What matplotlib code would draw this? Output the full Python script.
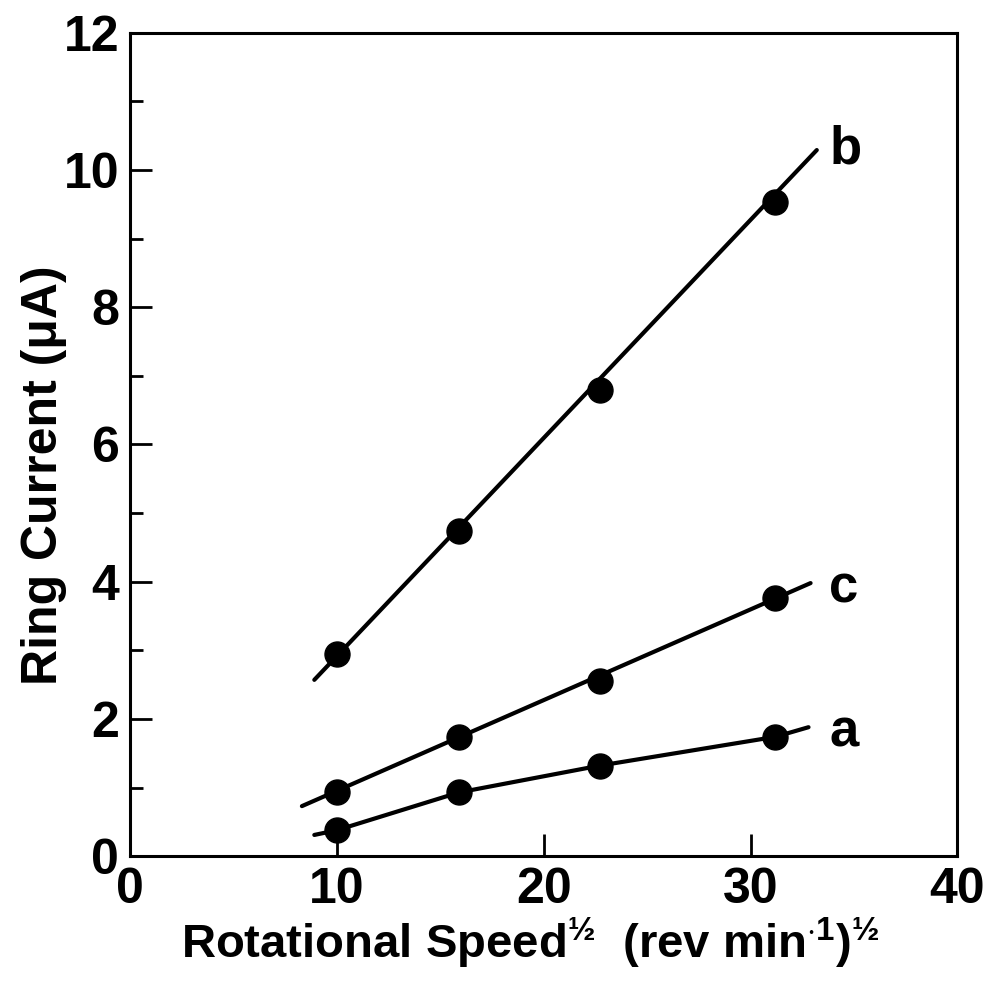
import numpy as np
import matplotlib
matplotlib.use("Agg")
import matplotlib.pyplot as plt

speed = [10.0, 15.9, 22.7, 31.2]          # (rev min^-1)^1/2
ring_a = [0.38, 0.93, 1.32, 1.74]
ring_b = [2.95, 4.74, 6.80, 9.54]
ring_c = [0.93, 1.73, 2.55, 3.77]

# drawn lines extend a bit past the first and last points
line_a_x = [8.9, 10.0, 15.9, 22.7, 31.2, 32.8]
line_a_y = [0.31, 0.38, 0.93, 1.32, 1.74, 1.88]
line_b_x = [8.9, 33.2]
line_b_y = [2.57, 10.29]
line_c_x = [8.3, 32.9]
line_c_y = [0.73, 3.98]

curve_names = ["a", "b", "c"]
name_pos_y = [1.8, 10.3, 3.9]

plt.rcParams['font.family'] = ['Liberation Sans', 'DejaVu Sans']
plt.rcParams['font.weight'] = 'bold'
plt.rcParams['mathtext.fontset'] = 'custom'
plt.rcParams['mathtext.rm'] = 'Liberation Sans:bold'
plt.rcParams['mathtext.default'] = 'rm'

fig = plt.figure(figsize=(9.87, 9.91), dpi=100)
ax = fig.add_axes([0.132, 0.136, 0.838, 0.831])

for lx, ly in [(line_a_x, line_a_y), (line_b_x, line_b_y), (line_c_x, line_c_y)]:
    ax.plot(lx, ly, color='black', lw=3, solid_capstyle='round', solid_joinstyle='round')
for ys in [ring_a, ring_b, ring_c]:
    ax.plot(speed, ys, 'o', color='black', ms=18, zorder=3)

for name, yy in zip(curve_names, name_pos_y):
    ax.text(33.8, yy, name, fontsize=38, fontweight='bold', va='center', ha='left')

ax.set_xlim(0, 40)
ax.set_ylim(0, 12)
ax.set_xticks([0, 10, 20, 30, 40])
ax.set_yticks([0, 2, 4, 6, 8, 10, 12])
ax.set_yticks([1, 3, 5, 7, 9, 11], minor=True)
ax.tick_params(axis='both', which='major', direction='in', length=16, width=2,
               labelsize=36, pad=8)
ax.tick_params(axis='y', which='minor', direction='in', length=9, width=2)
for lab in ax.get_xticklabels() + ax.get_yticklabels():
    lab.set_fontweight('bold')
for sp in ax.spines.values():
    sp.set_linewidth(2.2)

ax.set_xlabel("Rotational Speed$^{½}$  (rev min$^{\\cdot 1}$)$^{½}$", fontsize=34,
              fontweight='bold')
ax.set_ylabel("Ring Current (\u03bcA)", fontsize=36, fontweight='bold')
ax.xaxis.set_label_coords(0.484, -0.072)
ax.yaxis.set_label_coords(-0.076, 0.463)

fig.savefig("out.png", dpi=100)
